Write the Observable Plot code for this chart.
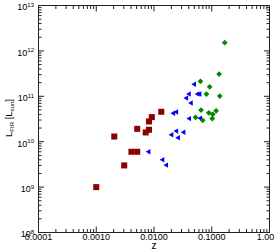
<!DOCTYPE html>
<html><head><meta charset="utf-8">
<script src="https://cdn.jsdelivr.net/npm/d3@7"></script>
<script src="https://cdn.jsdelivr.net/npm/@observablehq/plot@0.6"></script>
<style>body{margin:0;background:#fff}#chart{width:275px;height:252px}</style>
</head><body><div id="chart"></div>
<script>
// Sample 1 (dark red squares)
const redZ = [0.00100, 0.00205, 0.00305, 0.00407, 0.00512, 0.00512, 0.00718, 0.00818, 0.00818, 0.00916, 0.01337];
const redL = [1.0e9, 1.30e10, 3.0e9, 6.0e9, 6.0e9, 1.92e10, 1.60e10, 1.83e10, 2.79e10, 3.48e10, 4.56e10];
// Sample 2 (blue triangles)
const blueZ = [0.00813, 0.01419, 0.01643, 0.0203, 0.0246, 0.0264, 0.0328, 0.0218, 0.0246, 0.0412, 0.0441, 0.0366, 0.0407, 0.0573, 0.0621, 0.0502, 0.0638];
const blueL = [6.0e9, 3.99e9, 3.05e9, 1.42e10, 1.71e10, 1.22e10, 1.61e10, 4.22e10, 4.51e10, 3.23e10, 7.12e10, 9.12e10, 1.12e11, 1.12e11, 1.12e11, 1.84e11, 3.28e10];
// Sample 3 (green diamonds)
const greenZ = [0.168, 0.134, 0.0638, 0.092, 0.0811, 0.1374, 0.0652, 0.119, 0.0889, 0.104, 0.0524, 0.102, 0.0697];
const greenL = [1.52e12, 3.08e11, 2.14e11, 1.62e11, 1.12e11, 1.01e11, 4.97e10, 4.80e10, 4.33e10, 4.01e10, 3.45e10, 3.24e10, 2.96e10];

const xMajor = [1e-4, 1e-3, 1e-2, 1e-1, 1];
const xTickLabels = ["0.0001", "0.0010", "0.0100", "0.1000", "1.00"];
const yMajor = [1e8, 1e9, 1e10, 1e11, 1e12, 1e13];
const yExponents = ["8", "9", "10", "11", "12", "13"];
const xTitle = "z";

function minors(lo, hi) {
  const out = [];
  for (let e = lo; e < hi; e++) for (let m = 2; m <= 9; m++) out.push(m * Math.pow(10, e));
  return out;
}
const xMinor = minors(-4, 0);
const yMinor = minors(8, 13);

const red = redZ.map((z, i) => ({z, L: redL[i]}));
const blue = blueZ.map((z, i) => ({z, L: blueL[i]}));
const green = greenZ.map((z, i) => ({z, L: greenL[i]}));

const font = "'Liberation Sans', Arial, Helvetica, sans-serif";
const axisCol = "#222";

const svg = Plot.plot({
  width: 275, height: 252,
  marginLeft: 38, marginRight: 6, marginTop: 5, marginBottom: 20,
  style: {fontFamily: font, fontSize: "9px", background: "white", color: axisCol, overflow: "hidden"},
  x: {type: "log", domain: [1e-4, 1], axis: null},
  y: {type: "log", domain: [1e8, 1e13], axis: null},
  marks: [
    // ticks (inward) on all four sides
    Plot.axisX(xMajor, {anchor: "bottom", tickSize: -5.5, fill: "none", label: null}),
    Plot.axisX(xMinor, {anchor: "bottom", tickSize: -3, fill: "none", label: null}),
    Plot.axisX(xMajor, {anchor: "top", tickSize: -5.5, fill: "none", label: null}),
    Plot.axisX(xMinor, {anchor: "top", tickSize: -3, fill: "none", label: null}),
    Plot.axisY(yMajor, {anchor: "left", tickSize: -6, fill: "none", label: null}),
    Plot.axisY(yMinor, {anchor: "left", tickSize: -3.5, fill: "none", label: null}),
    Plot.axisY(yMajor, {anchor: "right", tickSize: -6, fill: "none", label: null}),
    Plot.axisY(yMinor, {anchor: "right", tickSize: -3.5, fill: "none", label: null}),
    // tick labels
    Plot.axisX(xMajor.slice(0, 4), {anchor: "bottom", tickSize: 0, tickPadding: 1.5, fill: "black",
      tickFormat: d => xTickLabels[Math.round(Math.log10(d)) + 4], label: null}),
    Plot.axisX(xMajor.slice(4), {anchor: "bottom", tickSize: 0, tickPadding: 1.5, fill: "black", dx: -4,
      tickFormat: d => xTickLabels[Math.round(Math.log10(d)) + 4], label: null}),
    Plot.axisY(yMajor, {anchor: "left", tickSize: 0, tickPadding: 4.5, fill: "black", dy: 2,
      tickFormat: () => "10", label: null}),
    Plot.text([xTitle], {frameAnchor: "bottom", dy: 16, fontSize: 10, fill: "black"}),
    Plot.frame({stroke: axisCol, strokeWidth: 1}),
    // data
    Plot.dot(red, {x: "z", y: "L", symbol: "square", r: 3.4, fill: "#8b0000", stroke: "none"}),
    Plot.dot(blue, {x: "z", y: "L", symbol: "triangle", rotate: -90, r: 2.0, fill: "#0000ff", stroke: "none"}),
    Plot.dot(green, {x: "z", y: "L", symbol: "diamond2", r: 2.6, fill: "#008800", stroke: "none"})
  ]
});

// superscripts on y tick labels
const ysel = d3.select(svg).selectAll('g[aria-label="y-axis tick label"] text');
ysel.each(function(_, j) {
  const t = d3.select(this);
  t.text(null);
  t.append("tspan").text("10");
  t.append("tspan").attr("font-size", "6px").attr("dy", "-0.55em").text(yExponents[j]);
});

// y-axis title with subscripts
const yt = d3.select(svg).append("text")
  .attr("transform", "translate(12,118) rotate(-90)")
  .attr("text-anchor", "middle")
  .attr("font-family", font)
  .attr("font-size", "9.5px")
  .attr("fill", "black");
yt.append("tspan").text("L");
yt.append("tspan").attr("font-size", "6px").attr("dy", 2).text("FIR");
yt.append("tspan").attr("dy", -2).text(" [L");
yt.append("tspan").attr("font-size", "6px").attr("dy", 2).text("sun");
yt.append("tspan").attr("dy", -2).text("]");

document.getElementById("chart").appendChild(svg);
</script>
</body></html>
